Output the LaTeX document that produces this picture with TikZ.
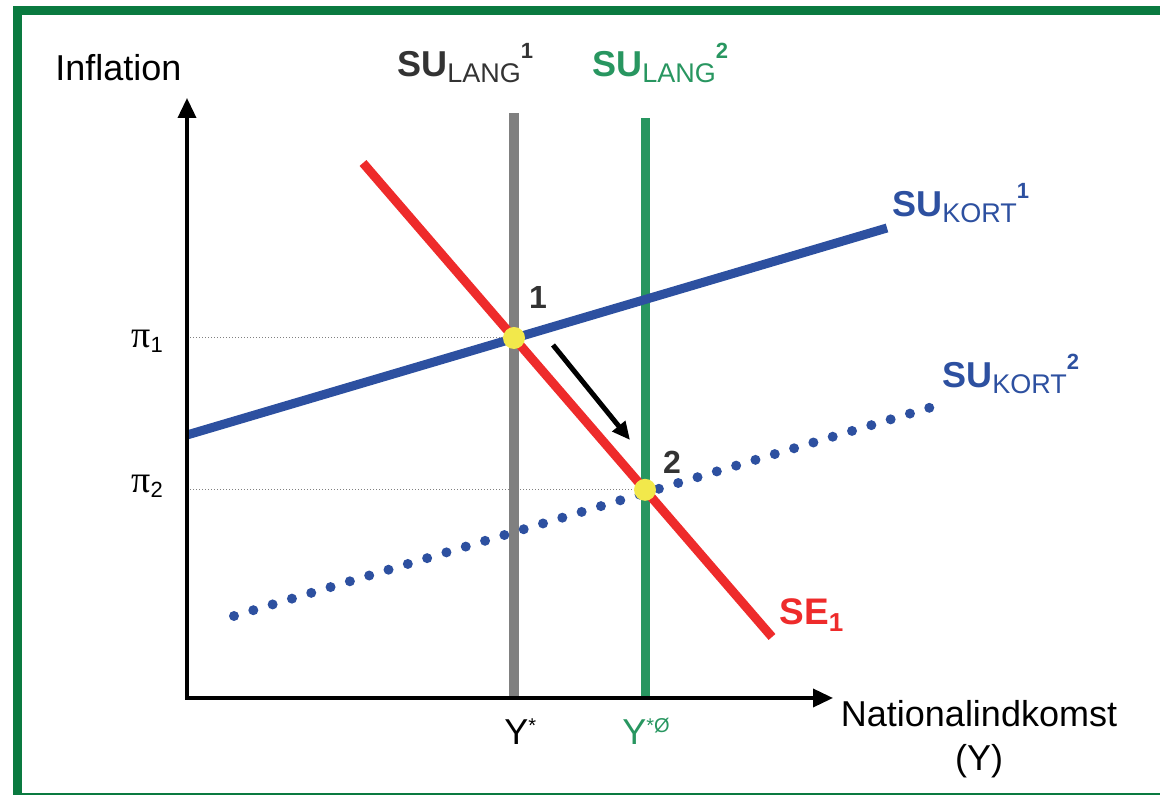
\documentclass[tikz,border=0pt]{standalone}
\usepackage{fontspec}
\setmainfont{Liberation Sans}
\newfontfamily\greekfont{Liberation Serif}
\usetikzlibrary{arrows.meta,intersections}

\definecolor{framegreen}{RGB}{10,122,64}
\definecolor{langgreen}{RGB}{40,150,96}
\definecolor{kortblue}{RGB}{45,80,160}
\definecolor{sered}{RGB}{238,43,43}
\definecolor{eqyellow}{RGB}{242,232,75}
\definecolor{labgray}{RGB}{51,51,51}

% curve labels: SU_{#1}^{#2}
\newcommand{\sulab}[2]{\fontsize{18}{18}\selectfont\textbf{SU}\raisebox{-3pt}{\fontsize{13.5}{14}\selectfont #1}\raisebox{9pt}{\fontsize{11}{11}\selectfont\textbf{#2}}}

\begin{document}
\begin{tikzpicture}[x=0.5pt,y=0.5pt,
  font=\fontsize{18}{22}\selectfont,
  every node/.append style={inner sep=0pt},
  axis/.style={line width=1.8pt,{Triangle[length=10pt,width=9pt]}-{Triangle[length=10pt,width=9pt]}},
  guide/.style={gray,densely dotted,line width=0.5pt},
  eqpoint/.style={circle,fill=eqyellow,minimum size=11pt},
  ptlab/.style={font=\fontsize{16}{16}\selectfont\bfseries,text=labgray}]

  \useasboundingbox (0,0) rectangle (1160,795);

  % Frame
  \draw[framegreen,line width=4.5pt] (17,-2.5) rectangle (1185,784);

  % Long-run supply
  \draw[gray,line width=5pt,name path=lang1] (514,97) -- (514,682);
  \draw[langgreen,line width=4.5pt,name path=lang2] (645,97) -- (645,677);

  % Short-run supply
  \draw[kortblue,line width=4.5pt,name path=kort1] (187,360) -- (887,567);
  \draw[kortblue,line width=5pt,line cap=round,dash pattern=on 0pt off 10.08pt]
    (234,179) -- (932,388);

  % SE curve
  \draw[sered,line width=4.5pt,name path=se] (363,632) -- (772,158);

  % Equilibria
  \path[name intersections={of=se and lang1,by=p1}];
  \path[name intersections={of=se and lang2,by=p2}];

  % Axes
  \coordinate (O) at (187,97);
  \draw[guide] (O |- p1) -- (p1);
  \draw[guide] (O |- p2) -- (p2);
  \draw[axis] (187,697) -- (O) -- (833,97);

  \node[eqpoint] (eq1) at (p1) {};
  \node[eqpoint] (eq2) at (p2) {};

  % Adjustment
  \coordinate (shiftA) at (553,450);
  \coordinate (shiftB) at (630,355);
  \draw[line width=2.5pt,-{Triangle[length=9pt,width=8pt]}] (shiftA) -- (shiftB);

  \node[ptlab] (lab1) at (538,497) {1};
  \node[ptlab] (lab2) at (672,333) {2};

  % Axis labels
  \node[anchor=base west] (ylab) at (55,714) {Inflation};
  \node[align=center] (xlab) at (979,56) {Nationalindkomst\\(Y)};
  \node[anchor=base west] (pi1) at (131,447) {{\greekfont\fontsize{19}{19}\selectfont π}\raisebox{-2.5pt}{\fontsize{11}{11}\selectfont 1}};
  \node[anchor=base west] (pi2) at (131,302) {{\greekfont\fontsize{19}{19}\selectfont π}\raisebox{-2.5pt}{\fontsize{11}{11}\selectfont 2}};
  \node[anchor=base west] (ystar) at (504,50) {Y\raisebox{6pt}{\fontsize{10}{10}\selectfont *}};
  \node[anchor=base west,text=langgreen] (ystar2) at (622,50) {Y\raisebox{6pt}{\fontsize{10}{10}\selectfont *Ø}};

  % Curve labels
  \node[anchor=base west,text=labgray] (lang1lab) at (397,718) {\sulab{LANG}{1}};
  \node[anchor=base west,text=langgreen] (lang2lab) at (592,718) {\sulab{LANG}{2}};
  \node[anchor=base west,text=kortblue] (kort1lab) at (892,578) {\sulab{KORT}{1}};
  \node[anchor=base west,text=kortblue] (kort2lab) at (942,407) {\sulab{KORT}{2}};
  \node[anchor=base west,text=sered] (selab) at (779,170)
    {\fontsize{18.5}{19}\selectfont\textbf{SE}\raisebox{-3.3pt}{\fontsize{13}{13}\selectfont\textbf{1}}};

\end{tikzpicture}
\end{document}
